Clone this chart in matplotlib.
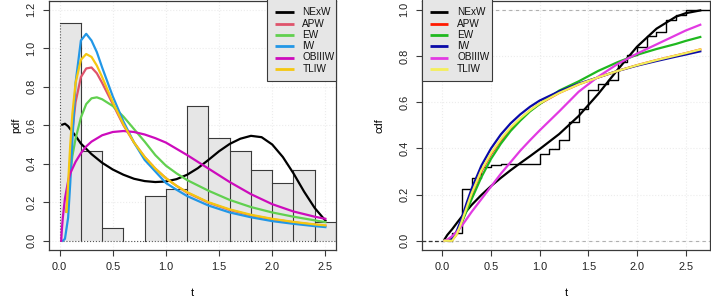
import matplotlib
matplotlib.use("Agg")
import matplotlib.pyplot as plt
from matplotlib.lines import Line2D
from matplotlib.patches import Rectangle

plt.rcParams['font.family'] = ['Liberation Sans', 'DejaVu Sans']

# ---------------- data: left panel (pdf) ----------------
bin_left = [0.0, 0.2, 0.4, 0.6, 0.8, 1.0, 1.2, 1.4, 1.6, 1.8, 2.0, 2.2, 2.4]
bin_density = [1.133, 0.467, 0.067, 0.0, 0.233, 0.267, 0.700, 0.533, 0.467, 0.367, 0.300, 0.367, 0.100]
bin_width = 0.2

t_nexw = [0.025, 0.05, 0.08, 0.1, 0.15, 0.2, 0.3, 0.4, 0.5, 0.6, 0.7, 0.8, 0.9, 1.0, 1.1, 1.2, 1.3,
          1.4, 1.5, 1.6, 1.7, 1.8, 1.9, 2.0, 2.1, 2.2, 2.3, 2.4, 2.5]
pdf_nexw = [0.603, 0.608, 0.595, 0.580, 0.545, 0.505, 0.450, 0.405, 0.370, 0.343, 0.322, 0.310, 0.305,
            0.308, 0.320, 0.343, 0.377, 0.420, 0.465, 0.503, 0.530, 0.545, 0.538, 0.500, 0.435, 0.350,
            0.255, 0.170, 0.105]

t_a = [0.065, 0.08, 0.1, 0.12, 0.15, 0.2, 0.25, 0.3, 0.35, 0.4, 0.5, 0.6, 0.7, 0.8, 0.9, 1.0, 1.1, 1.2,
       1.4, 1.6, 1.8, 2.0, 2.2, 2.4, 2.5]
pdf_apw = [0.15, 0.27, 0.43, 0.57, 0.72, 0.85, 0.895, 0.90, 0.87, 0.82, 0.71, 0.60, 0.51, 0.435, 0.375,
           0.325, 0.285, 0.25, 0.198, 0.16, 0.132, 0.112, 0.096, 0.083, 0.078]
pdf_tliw = [0.15, 0.30, 0.50, 0.66, 0.82, 0.94, 0.97, 0.955, 0.91, 0.85, 0.72, 0.605, 0.51, 0.435, 0.375,
            0.325, 0.285, 0.252, 0.20, 0.163, 0.135, 0.114, 0.098, 0.085, 0.080]
pdf_ew = [0.15, 0.25, 0.35, 0.44, 0.53, 0.64, 0.71, 0.74, 0.745, 0.735, 0.70, 0.645, 0.58, 0.515, 0.445,
          0.39, 0.35, 0.315, 0.26, 0.212, 0.175, 0.147, 0.125, 0.106, 0.097]

t_iw = [0.03, 0.05, 0.08, 0.1, 0.12, 0.15, 0.2, 0.25, 0.3, 0.35, 0.4, 0.5, 0.6, 0.7, 0.8, 0.9, 1.0, 1.1,
        1.2, 1.4, 1.6, 1.8, 2.0, 2.2, 2.4, 2.5]
pdf_iw = [0.0, 0.01, 0.12, 0.30, 0.52, 0.82, 1.04, 1.075, 1.04, 0.98, 0.90, 0.75, 0.62, 0.51, 0.42, 0.36,
          0.30, 0.265, 0.232, 0.183, 0.147, 0.122, 0.102, 0.088, 0.076, 0.071]

t_ob = [0.015, 0.02, 0.03, 0.05, 0.08, 0.1, 0.15, 0.2, 0.25, 0.3, 0.4, 0.5, 0.6, 0.7, 0.8, 0.9, 1.0, 1.2,
        1.4, 1.6, 1.8, 2.0, 2.2, 2.4, 2.5]
pdf_ob = [0.0, 0.05, 0.12, 0.22, 0.31, 0.35, 0.41, 0.455, 0.49, 0.515, 0.548, 0.565, 0.57, 0.565, 0.552,
          0.533, 0.51, 0.445, 0.375, 0.305, 0.242, 0.19, 0.152, 0.125, 0.114]

# ---------------- data: right panel (cdf) ----------------
ecdf_knots = [0.1, 0.2, 0.3, 0.4, 0.5, 0.6, 1.0, 1.1, 1.2, 1.3, 1.4, 1.5, 1.6, 1.7, 1.8, 1.9, 2.0, 2.1,
              2.2, 2.3, 2.4, 2.5]
ecdf_levels = [0.033, 0.225, 0.273, 0.319, 0.326, 0.333, 0.377, 0.398, 0.434, 0.516, 0.571, 0.651, 0.680,
               0.696, 0.773, 0.802, 0.838, 0.885, 0.903, 0.956, 0.976, 1.0]

tc = [0.02, 0.05, 0.1, 0.15, 0.2, 0.25, 0.3, 0.4, 0.5, 0.6, 0.7, 0.8, 0.9, 1.0, 1.2, 1.4, 1.6, 1.8, 2.0,
      2.2, 2.4, 2.5, 2.65]
cdf_nexw = [0.005, 0.025, 0.05, 0.078, 0.105, 0.13, 0.155, 0.198, 0.237, 0.272, 0.305, 0.336, 0.366,
            0.397, 0.462, 0.540, 0.635, 0.740, 0.840, 0.918, 0.970, 0.985, 0.997]
cdf_apw = [0.0, 0.0, 0.003, 0.03, 0.08, 0.14, 0.20, 0.30, 0.375, 0.435, 0.485, 0.527, 0.563, 0.593, 0.64,
           0.677, 0.707, 0.735, 0.76, 0.782, 0.802, 0.812, 0.828]
cdf_ew = [0.0, 0.0, 0.01, 0.035, 0.08, 0.13, 0.18, 0.275, 0.355, 0.42, 0.475, 0.52, 0.56, 0.592, 0.65,
          0.69, 0.735, 0.773, 0.805, 0.83, 0.852, 0.865, 0.882]
cdf_iw = [0.0, 0.0, 0.008, 0.045, 0.10, 0.165, 0.225, 0.325, 0.40, 0.46, 0.508, 0.547, 0.58, 0.607, 0.647,
          0.68, 0.707, 0.735, 0.758, 0.778, 0.797, 0.806, 0.82]
cdf_ob = [0.0, 0.005, 0.02, 0.04, 0.065, 0.095, 0.125, 0.18, 0.235, 0.29, 0.34, 0.39, 0.435, 0.478, 0.56,
          0.645, 0.71, 0.765, 0.81, 0.85, 0.89, 0.91, 0.935]
cdf_tliw = [0.0, 0.0, 0.0, 0.03, 0.085, 0.145, 0.205, 0.305, 0.38, 0.44, 0.49, 0.53, 0.565, 0.595, 0.64,
            0.677, 0.707, 0.735, 0.76, 0.782, 0.802, 0.812, 0.828]

labels = ["NExW", "APW", "EW", "IW", "OBIIIW", "TLIW"]
cols_left = ["black", "#DF536B", "#61D04F", "#2297E6", "#CD0BBC", "#F5C710"]
cols_right = ["black", "#FF1A00", "#1FB81F", "#0A0AA8", "#E23AE2", "#F4EE5A"]

# ---------------- figure ----------------
W, H = 711, 299
fig = plt.figure(figsize=(W / 100, H / 100), dpi=100)

def px_axes(x0, x1, y0, y1):
    return fig.add_axes([x0 / W, 1 - y1 / H, (x1 - x0) / W, (y1 - y0) / H])

axL = px_axes(49, 336, 0.5, 250)
axR = px_axes(422, 710, 0.5, 250)

fs_tick = 7.9
fs_leg = 7.2
edge = '#3a3a3a'

def style(ax):
    for s in ax.spines.values():
        s.set_color(edge)
        s.set_linewidth(0.9)
    ax.tick_params(direction='out', length=4, width=0.8, color=edge, labelsize=fs_tick,
                   labelcolor='#222222', pad=5)
    for lab in ax.get_yticklabels():
        lab.set_rotation(90)
        lab.set_va('center')
    ax.grid(True, color='#ececec', linestyle=':', linewidth=0.8)
    ax.set_axisbelow(True)

def legend_px(x0, x1, y1, colors, lw_leg=2.0):
    rect = Rectangle((x0 / W, 1 - y1 / H), (x1 - x0) / W, y1 / H + 0.01, transform=fig.transFigure,
                     facecolor='#e6e6e6', edgecolor=edge, linewidth=0.8, zorder=20)
    fig.add_artist(rect)
    ys = [12.3, 23.6, 34.9, 46.2, 57.5, 68.8]
    for yy, c, lab in zip(ys, colors, labels):
        fig.add_artist(Line2D([(x0 + 8) / W, (x0 + 26.3) / W], [1 - yy / H, 1 - yy / H],
                              transform=fig.transFigure, color=c, lw=lw_leg, zorder=21,
                              solid_capstyle='butt'))
        fig.text((x0 + 35) / W, 1 - yy / H, lab, fontsize=fs_leg, va='center', ha='left',
                 color='#111111', zorder=22)

# left panel: histogram (fill, then outlines)
axL.bar(bin_left, bin_density, width=bin_width, align='edge', facecolor='#e6e6e6', edgecolor='none',
        zorder=2)
for i, (x0, h) in enumerate(zip(bin_left, bin_density)):
    if h > 0:
        axL.plot([x0, x0 + bin_width], [h, h], color=edge, lw=0.8, zorder=3)
    prev = bin_density[i - 1] if i > 0 else 0.0
    top = max(h, prev)
    if top > 0:
        axL.plot([x0, x0], [0, top], color=edge if i > 0 else '#555555', lw=0.8,
                 linestyle='-' if i > 0 else ':', zorder=3)
axL.plot([bin_left[-1] + bin_width] * 2, [0, bin_density[-1]], color=edge, lw=0.8, zorder=3)
axL.plot([0, bin_left[-1] + bin_width], [0, 0], color='#555555', linestyle=':', linewidth=0.8, zorder=3)

lw = 1.6
axL.plot(t_nexw, pdf_nexw, color=cols_left[0], lw=lw, zorder=4)
axL.plot(t_a, pdf_apw, color=cols_left[1], lw=lw, zorder=4)
axL.plot(t_a, pdf_ew, color=cols_left[2], lw=lw, zorder=4)
axL.plot(t_iw, pdf_iw, color=cols_left[3], lw=lw, zorder=4)
axL.plot(t_ob, pdf_ob, color=cols_left[4], lw=lw, zorder=4)
axL.plot(t_a, pdf_tliw, color=cols_left[5], lw=lw, zorder=4)
axL.set_xlim(-0.1, 2.6)
axL.set_ylim(-0.048, 1.248)
axL.set_xticks([0, 0.5, 1.0, 1.5, 2.0, 2.5])
axL.set_xticklabels(["0.0", "0.5", "1.0", "1.5", "2.0", "2.5"])
axL.set_yticks([0, 0.2, 0.4, 0.6, 0.8, 1.0, 1.2])
axL.set_yticklabels(["0.0", "0.2", "0.4", "0.6", "0.8", "1.0", "1.2"])
style(axL)
axL.set_xlabel("t", fontsize=fs_tick, labelpad=11)
axL.set_ylabel("pdf", fontsize=fs_tick, labelpad=4)

# right panel
axR.axhline(0, color='#b0b0b0', linestyle=(0, (3, 3)), linewidth=0.8, zorder=2)
axR.axhline(1, color='#b0b0b0', linestyle=(0, (3, 3)), linewidth=0.8, zorder=2)
xs = [ecdf_knots[0]] + ecdf_knots + [2.75]
ys = [0.0] + ecdf_levels + [ecdf_levels[-1]]
axR.step(xs, ys, where='post', color='black', lw=1.0, zorder=3)
axR.plot([-0.21, ecdf_knots[0]], [0, 0], color='#333333', lw=0.9, linestyle=(0, (3, 2)), zorder=3)
axR.plot(tc, cdf_nexw, color=cols_right[0], lw=lw, zorder=4)
axR.plot(tc, cdf_apw, color=cols_right[1], lw=lw, zorder=4)
axR.plot(tc, cdf_ew, color=cols_right[2], lw=lw, zorder=4)
axR.plot(tc, cdf_iw, color=cols_right[3], lw=lw, zorder=4)
axR.plot(tc, cdf_ob, color=cols_right[4], lw=lw, zorder=4)
axR.plot(tc, cdf_tliw, color=cols_right[5], lw=lw, zorder=4)
axR.set_xlim(-0.21, 2.75)
axR.set_ylim(-0.04, 1.04)
axR.set_xticks([0, 0.5, 1.0, 1.5, 2.0, 2.5])
axR.set_xticklabels(["0.0", "0.5", "1.0", "1.5", "2.0", "2.5"])
axR.set_yticks([0, 0.2, 0.4, 0.6, 0.8, 1.0])
axR.set_yticklabels(["0.0", "0.2", "0.4", "0.6", "0.8", "1.0"])
style(axR)
axR.set_xlabel("t", fontsize=fs_tick, labelpad=11)
axR.set_ylabel("cdf", fontsize=fs_tick, labelpad=11)

legend_px(267.3, 336, 80.7, cols_left)
legend_px(422, 491.7, 80.7, cols_right)

fig.savefig("out.png", dpi=100)
